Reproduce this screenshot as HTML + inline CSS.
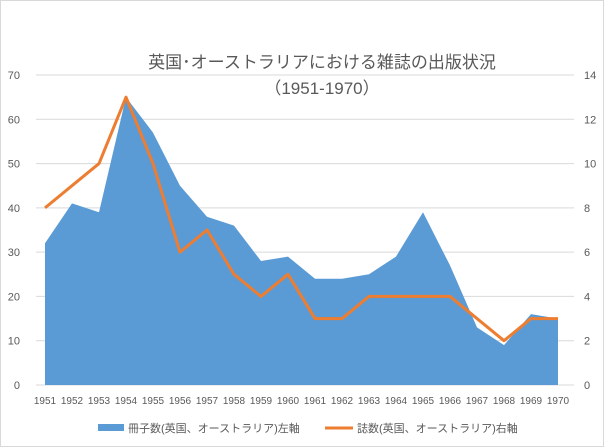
<!DOCTYPE html>
<html><head><meta charset="utf-8"><style>
body{margin:0;background:#fff;}
svg{display:block;font-family:"Liberation Sans","Noto Sans CJK JP",sans-serif;}
</style></head><body>
<svg width="604" height="447" viewBox="0 0 604 447">
<rect x="0.5" y="0.5" width="603" height="446" fill="#fff" stroke="#d9d9d9"/>
<text x="322" y="68" text-anchor="middle" font-size="17" fill="#595959">英国･オーストラリアにおける雑誌の出版状況</text>
<text x="322" y="94" text-anchor="middle" font-size="17" fill="#595959">（1951-1970）</text>
<g id="grid"></g><g id="area"></g><g id="line"></g><g id="axes"></g>
<g>
<rect x="98" y="424" width="26" height="7" fill="#5b9bd5"/>
<text x="128" y="432" font-size="11" fill="#595959">冊子数(英国、オーストラリア)左軸</text>
<line x1="325" y1="428" x2="353" y2="428" stroke="#ed7d31" stroke-width="3"/>
<text x="357" y="432" font-size="11" fill="#595959">誌数(英国、オーストラリア)右軸</text>
</g>
</svg>
<script>
const categories=[1951,1952,1953,1954,1955,1956,1957,1958,1959,1960,1961,1962,1963,1964,1965,1966,1967,1968,1969,1970];
const bookletCounts=[32,41,39,65,57,45,38,36,28,29,24,24,25,29,39,27,13,9,16,15];
const magazineCounts=[8,9,10,13,10,6,7,5,4,5,3,3,4,4,4,4,3,2,3,3];
const leftTicks=[0,10,20,30,40,50,60,70];
const rightTicks=[0,2,4,6,8,10,12,14];
const NS="http://www.w3.org/2000/svg";
const x0=45,x1=558,yB=385,yT=75;
const xs=i=>x0+(x1-x0)*i/(categories.length-1);
const yl=v=>yB-(yB-yT)*v/70;
const yr=v=>yB-(yB-yT)*v/14;
function mk(t,a,p){const e=document.createElementNS(NS,t);for(const k in a)e.setAttribute(k,a[k]);p.appendChild(e);return e;}
const grid=document.getElementById('grid'),axes=document.getElementById('axes');
leftTicks.forEach(v=>{
 const l=mk('line',{x1:36,x2:574,y1:yl(v),y2:yl(v),stroke:'#d9d9d9','stroke-width':1},grid);
 
 
 const t=mk('text',{x:20,y:yl(v)+4,'text-anchor':'end','font-size':11,fill:'#595959'},axes);
 t.textContent=v;
 
 
});
rightTicks.forEach(v=>{
 const t=mk('text',{x:584,y:yr(v)+4,'font-size':11,fill:'#595959'},axes);
 t.textContent=v;
 
 
});
categories.forEach((c,i)=>{
 const t=mk('text',{x:xs(i),y:404,'text-anchor':'middle','font-size':10,fill:'#595959'},axes);
 t.textContent=c;
 
 
});
let d='M'+xs(0)+','+yB;
bookletCounts.forEach((v,i)=>{d+=' L'+xs(i)+','+yl(v);});
d+=' L'+xs(categories.length-1)+','+yB+' Z';
const ar=mk('path',{d:d,fill:'#5b9bd5'},document.getElementById('area'));


const pl=mk('polyline',{points:magazineCounts.map((v,i)=>xs(i)+','+yr(v)).join(' '),fill:'none',stroke:'#ed7d31','stroke-width':3,'stroke-linejoin':'round'},document.getElementById('line'));


</script>
</body></html>
